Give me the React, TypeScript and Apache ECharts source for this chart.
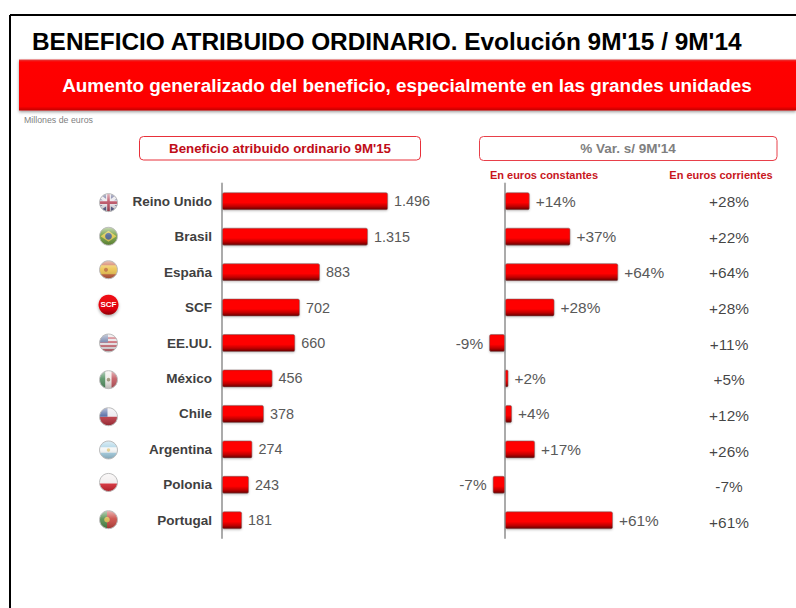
import React, { useEffect, useRef } from "react";
import * as echarts from "echarts";

const categories = ["Reino Unido", "Brasil", "España", "SCF", "EE.UU.", "México", "Chile", "Argentina", "Polonia", "Portugal"];
const beneficio = [1496, 1315, 883, 702, 660, 456, 378, 274, 243, 181];
const constantes = [14, 37, 64, 28, -9, 2, 4, 17, -7, 61];
const corrientes = [28, 22, 64, 28, 11, 5, 12, 26, -7, 61];

const titleText = "BENEFICIO ATRIBUIDO ORDINARIO. Evolución 9M'15 / 9M'14";
const bannerText = "Aumento generalizado del beneficio, especialmente en las grandes unidades";
const unitText = "Millones de euros";
const boxLeftText = "Beneficio atribuido ordinario 9M'15";
const boxRightText = "% Var. s/ 9M'14";
const subLeftText = "En euros constantes";
const subRightText = "En euros corrientes";

const FONT = '"Liberation Sans", Arial, sans-serif';
const flagNudge = [1.4, -0.4, -2.4, -2.8, 0, 1.2, 2.8, 0.6, -2.4, -0.6];

const barGradient = new echarts.graphic.LinearGradient(0, 0, 0, 1, [
  { offset: 0, color: "#f00000" },
  { offset: 0.12, color: "#ff0000" },
  { offset: 0.58, color: "#ff0000" },
  { offset: 0.8, color: "#c00000" },
  { offset: 1, color: "#620000" },
]);

const barStyle = {
  color: barGradient,
  borderColor: "rgba(130,100,100,0.55)",
  borderWidth: 1,
  borderRadius: 1.5,
  shadowColor: "rgba(0,0,0,0.22)",
  shadowBlur: 2,
  shadowOffsetY: 1,
};

const fmtThousands = (v: number) => {
  const s = String(v);
  return s.length > 3 ? s.slice(0, s.length - 3) + "." + s.slice(-3) : s;
};
const fmtPct = (v: number) => (v >= 0 ? "+" : "") + v + "%";

const R = 9;
const rect = (x: number, y: number, width: number, height: number, fill: string, rotation = 0) => ({
  type: "rect",
  rotation,
  shape: { x, y, width, height },
  style: { fill },
});
const circ = (cx: number, cy: number, r: number, fill: string) => ({
  type: "circle",
  shape: { cx, cy, r },
  style: { fill },
});

function flagParts(name: string): any[] {
  switch (name) {
    case "Reino Unido":
      return [
        rect(-R, -R, 2 * R, 2 * R, "#5a5f8e"),
        rect(-14, -1.6, 28, 3.2, "#e8e4ea", Math.PI / 5),
        rect(-14, -1.6, 28, 3.2, "#e8e4ea", -Math.PI / 5),
        rect(-R, -2.4, 2 * R, 4.8, "#ece8ee"),
        rect(-2.4, -R, 4.8, 2 * R, "#ece8ee"),
        rect(-R, -1.3, 2 * R, 2.6, "#b8485c"),
        rect(-1.3, -R, 2.6, 2 * R, "#b8485c"),
      ];
    case "Brasil":
      return [
        rect(-R, -R, 2 * R, 2 * R, "#6c9a3a"),
        { type: "polygon", shape: { points: [[-8, 0], [0, -5.5], [8, 0], [0, 5.5]] }, style: { fill: "#dcc84a" } },
        circ(0, 0, 3.4, "#48608e"),
      ];
    case "España":
      return [
        rect(-R, -R, 2 * R, 2 * R, "#c9603e"),
        rect(-R, -4.6, 2 * R, 9.2, "#ecc24a"),
        circ(-2.5, 0, 2, "#c0703a"),
      ];
    case "EE.UU.":
      return [
        rect(-R, -R, 2 * R, 2 * R, "#e6dfe2"),
        rect(-R, -6, 2 * R, 2, "#c96a74"),
        rect(-R, -2, 2 * R, 2, "#c96a74"),
        rect(-R, 2, 2 * R, 2, "#c96a74"),
        rect(-R, 6, 2 * R, 2, "#c96a74"),
        rect(-R, -R, 8.5, 8.5, "#6f7fa8"),
      ];
    case "México":
      return [
        rect(-R, -R, 6, 2 * R, "#4f8e5e"),
        rect(-3, -R, 6, 2 * R, "#eeeae6"),
        rect(3, -R, 6, 2 * R, "#c0525a"),
        circ(0, 0, 1.8, "#9a8f72"),
      ];
    case "Chile":
      return [
        rect(-R, -R, 2 * R, R, "#eae8ee"),
        rect(-R, 0, 2 * R, R, "#b8303c"),
        rect(-R, -R, 8, R, "#4a62a0"),
      ];
    case "Argentina":
      return [
        rect(-R, -R, 2 * R, 2 * R, "#a4d0e4"),
        rect(-R, -2.8, 2 * R, 5.6, "#f4f6f6"),
        circ(0, 0, 1.7, "#e4cf8a"),
      ];
    case "Polonia":
      return [
        rect(-R, -R, 2 * R, R + 1, "#f2eeee"),
        rect(-R, 1, 2 * R, R, "#d8232e"),
      ];
    case "Portugal":
      return [
        rect(-R, -R, 7.5, 2 * R, "#4e8a48"),
        rect(-1.5, -R, 11, 2 * R, "#c8423c"),
        circ(-1.5, 0, 2.8, "#d8b84e"),
      ];
    default:
      return [];
  }
}

function renderFlag(_params: any, api: any) {
  const i = api.value(1) as number;
  const name = categories[i];
  const p = api.coord([0, i]);
  const cx = p[0] - 113.5;
  const cy = p[1] + flagNudge[i];
  const gloss = new echarts.graphic.LinearGradient(0, 0, 0, 1, [
    { offset: 0, color: "rgba(255,255,255,0.62)" },
    { offset: 0.45, color: "rgba(255,255,255,0.12)" },
    { offset: 1, color: "rgba(0,0,0,0.22)" },
  ]);
  if (name === "SCF") {
    return {
      type: "group",
      x: cx,
      y: cy,
      children: [
        {
          type: "circle",
          shape: { cx: 0, cy: 0, r: 10 },
          style: {
            fill: new echarts.graphic.LinearGradient(0, 0, 0, 1, [
              { offset: 0, color: "#f01018" },
              { offset: 0.7, color: "#e00008" },
              { offset: 1, color: "#8c0006" },
            ]),
            shadowColor: "rgba(0,0,0,0.35)",
            shadowBlur: 3,
            shadowOffsetY: 1.5,
          },
        },
        {
          type: "text",
          style: {
            text: "SCF",
            x: 0,
            y: 0,
            fill: "#ffffff",
            align: "center",
            verticalAlign: "middle",
            font: `bold 8px ${FONT}`,
          },
        },
      ],
    };
  }
  return {
    type: "group",
    x: cx,
    y: cy,
    children: [
      {
        type: "group",
        clipPath: { type: "circle", shape: { cx: 0, cy: 0, r: R } },
        children: flagParts(name),
      },
      { type: "circle", shape: { cx: 0, cy: 0, r: R }, style: { fill: gloss, stroke: "#bdbdbd", lineWidth: 1 } },
    ],
  };
}

function buildOption(): any {
  const valueLabel = {
    show: true,
    fontFamily: FONT,
    color: "#595959",
    distance: 6,
  };
  const hiddenX = { type: "value", show: false, splitLine: { show: false } };
  return {
    animation: false,
    backgroundColor: "#ffffff",
    textStyle: { fontFamily: FONT },
    grid: [
      { left: 222, top: 183.5, width: 166.5, height: 354.5 },
      { left: 487.3, top: 183.5, width: 141.6, height: 354.5 },
      { left: 690, top: 183.5, width: 78, height: 357 },
    ],
    xAxis: [
      { ...hiddenX, gridIndex: 0, min: 0, max: 1500 },
      { ...hiddenX, gridIndex: 1, min: -10, max: 70 },
      { ...hiddenX, gridIndex: 2, min: 0, max: 2 },
    ],
    yAxis: [
      {
        type: "category",
        gridIndex: 0,
        inverse: true,
        data: categories,
        axisTick: { show: false },
        axisLine: { lineStyle: { color: "#ababab", width: 2 } },
        axisLabel: { fontFamily: FONT, fontSize: 13.5, fontWeight: "bold", color: "#404040", margin: 10 },
      },
      {
        type: "category",
        gridIndex: 1,
        inverse: true,
        data: categories,
        axisTick: { show: false },
        axisLabel: { show: false },
        axisLine: { onZero: true, lineStyle: { color: "#ababab", width: 2 } },
      },
      { type: "category", gridIndex: 2, inverse: true, data: categories, show: false },
    ],
    series: [
      {
        type: "bar",
        name: "Beneficio atribuido ordinario 9M'15",
        xAxisIndex: 0,
        yAxisIndex: 0,
        data: beneficio,
        barWidth: 18,
        itemStyle: barStyle,
        label: {
          ...valueLabel,
          fontSize: 14.4,
          position: "right",
          formatter: (p: any) => fmtThousands(p.value),
        },
      },
      {
        type: "bar",
        name: "En euros constantes",
        xAxisIndex: 1,
        yAxisIndex: 1,
        barWidth: 18,
        itemStyle: barStyle,
        data: constantes.map((v) => ({
          value: v,
          label: { position: v < 0 ? "left" : "right" },
        })),
        label: { ...valueLabel, fontSize: 15.4, formatter: (p: any) => fmtPct(p.value) },
      },
      {
        type: "scatter",
        name: "En euros corrientes",
        xAxisIndex: 2,
        yAxisIndex: 2,
        symbolSize: 0,
        data: corrientes.map((v, i) => [1, i, v]),
        label: {
          show: true,
          position: "inside",
          fontFamily: FONT,
          fontSize: 15.4,
          color: "#111111",
          formatter: (p: any) => fmtPct(p.value[2]),
        },
      },
      {
        type: "custom",
        name: "Banderas",
        xAxisIndex: 0,
        yAxisIndex: 0,
        clip: false,
        silent: true,
        renderItem: renderFlag,
        encode: { x: 0, y: 1 },
        data: categories.map((_, i) => [0, i]),
      },
    ],
    graphic: [
      { type: "line", shape: { x1: 10, y1: 15, x2: 796, y2: 15 }, style: { stroke: "#000", lineWidth: 2 } },
      { type: "line", shape: { x1: 10, y1: 15, x2: 10, y2: 608 }, style: { stroke: "#000", lineWidth: 2 } },
      {
        type: "text",
        x: 32,
        y: 41,
        style: { text: titleText, fill: "#000", font: `bold 24.4px ${FONT}`, align: "left", verticalAlign: "middle" },
      },
      {
        type: "rect",
        shape: { x: 19, y: 59.5, width: 777, height: 51 },
        style: {
          fill: new echarts.graphic.LinearGradient(0, 0, 0, 1, [
            { offset: 0, color: "#e04040" },
            { offset: 0.05, color: "#ff0000" },
            { offset: 0.92, color: "#fb0000" },
            { offset: 1, color: "#c00000" },
          ]),
          shadowColor: "rgba(0,0,0,0.4)",
          shadowBlur: 3,
          shadowOffsetY: 1.5,
        },
      },
      {
        type: "text",
        x: 407,
        y: 85,
        style: { text: bannerText, fill: "#fff", font: `bold 18.9px ${FONT}`, align: "center", verticalAlign: "middle" },
      },
      {
        type: "text",
        x: 24,
        y: 120,
        style: { text: unitText, fill: "#7f7f7f", font: `8.8px ${FONT}`, align: "left", verticalAlign: "middle" },
      },
      {
        type: "rect",
        shape: { x: 139.5, y: 136.5, width: 281, height: 23.5, r: 4 },
        style: { fill: "#fff", stroke: "#e8303a", lineWidth: 1 },
      },
      {
        type: "text",
        x: 280,
        y: 148.5,
        style: { text: boxLeftText, fill: "#c00d18", font: `bold 13.3px ${FONT}`, align: "center", verticalAlign: "middle" },
      },
      {
        type: "rect",
        shape: { x: 479.5, y: 136.5, width: 297.5, height: 24, r: 4 },
        style: { fill: "#fff", stroke: "#e8404a", lineWidth: 1 },
      },
      {
        type: "text",
        x: 628,
        y: 148.5,
        style: { text: boxRightText, fill: "#7f7f7f", font: `bold 13.5px ${FONT}`, align: "center", verticalAlign: "middle" },
      },
      {
        type: "text",
        x: 544,
        y: 174.5,
        style: { text: subLeftText, fill: "#c8161d", font: `bold 11px ${FONT}`, align: "center", verticalAlign: "middle" },
      },
      {
        type: "text",
        x: 721,
        y: 174.5,
        style: { text: subRightText, fill: "#c8161d", font: `bold 11px ${FONT}`, align: "center", verticalAlign: "middle" },
      },
    ],
  };
}

export default function App() {
  const ref = useRef<HTMLDivElement>(null);
  useEffect(() => {
    const chart = echarts.init(ref.current!, undefined, { renderer: "svg" });
    chart.setOption(buildOption());
    return () => chart.dispose();
  }, []);
  return <div ref={ref} style={{ position: "absolute", left: 0, top: 0, width: 796, height: 608 }} />;
}
